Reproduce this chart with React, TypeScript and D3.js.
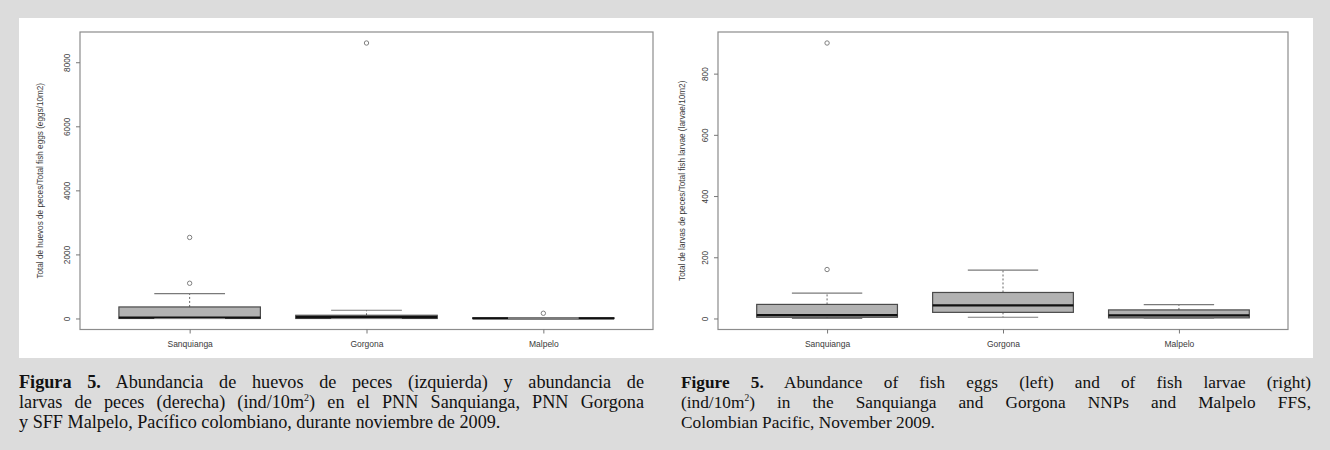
import { useEffect, useRef } from 'react';
import * as d3 from 'd3';

// ─── Data ───────────────────────────────────────────────────

const categories = ['Sanquianga', 'Gorgona', 'Malpelo'];

// eggs / 10 m2 (left panel)
const eggsLowWhisker = [0, 0, 0];
const eggsQ1 = [0, 0, 0];
const eggsMedian = [30, 40, 5];
const eggsQ3 = [360, 100, 20];
const eggsHighWhisker = [775, 257, 30];
const eggsOutliers = [[1100, 2530], [8600], [163]];
const eggsTicks = [0, 2000, 4000, 6000, 8000];

// larvae / 10 m2 (right panel)
const larvaeLowWhisker = [0, 4, 1];
const larvaeQ1 = [4, 20, 2];
const larvaeMedian = [11, 43, 10];
const larvaeQ3 = [46, 85, 28];
const larvaeHighWhisker = [83, 158, 45];
const larvaeOutliers = [[160, 900], [], []];
const larvaeTicks = [0, 200, 400, 600, 800];

const eggsTitle = 'Total de huevos de peces/Total fish eggs (eggs/10m2)';
const larvaeTitle = 'Total de larvas de peces/Total fish larvae (larvae/10m2)';

type Seg = { t: string; b?: boolean; sup?: boolean };
const captionLeft: { segs: Seg[]; justify: boolean }[] = [
  { segs: [{ t: 'Figura 5.', b: true }, { t: ' Abundancia de huevos de peces (izquierda) y abundancia de' }], justify: true },
  { segs: [{ t: 'larvas de peces (derecha) (ind/10m' }, { t: '2', sup: true }, { t: ') en el PNN Sanquianga, PNN Gorgona' }], justify: true },
  { segs: [{ t: 'y SFF Malpelo, Pacífico colombiano, durante noviembre de 2009.' }], justify: false },
];
const captionRight: { segs: Seg[]; justify: boolean }[] = [
  { segs: [{ t: 'Figure 5.', b: true }, { t: ' Abundance of fish eggs (left) and of fish larvae (right)' }], justify: true },
  { segs: [{ t: '(ind/10m' }, { t: '2', sup: true }, { t: ') in the Sanquianga and Gorgona NNPs and Malpelo FFS,' }], justify: true },
  { segs: [{ t: 'Colombian Pacific, November 2009.' }], justify: false },
];

// ─── Layout ─────────────────────────────────────────────────

const W = 1330;
const H = 450;
const SANS = '"Liberation Sans", Arial, sans-serif';
const SERIF = '"Liberation Serif", "Times New Roman", serif';

interface PanelCfg {
  x0: number; x1: number; y0: number; y1: number;
  titleX: number; title: string;
  low: number[]; q1: number[]; med: number[]; q3: number[]; high: number[];
  out: number[][]; ticks: number[];
}

function drawPanel(g: d3.Selection<SVGGElement, unknown, null, undefined>, c: PanelCfg) {
  const x = d3.scaleLinear().domain([0.38, 3.62]).range([c.x0, c.x1]);
  const all = [...c.low, ...c.high, ...c.out.flat()];
  const lo = d3.min(all) as number;
  const hi = d3.max(all) as number;
  const pad = (hi - lo) * 0.04;
  const y = d3.scaleLinear().domain([lo - pad, hi + pad]).range([c.y1, c.y0]);

  // frame
  g.append('rect')
    .attr('x', c.x0).attr('y', c.y0)
    .attr('width', c.x1 - c.x0).attr('height', c.y1 - c.y0)
    .attr('fill', 'none').attr('stroke', '#8c8c8c').attr('stroke-width', 1.2);

  // y axis
  const ya = g.append('g').attr('transform', `translate(${c.x0},0)`)
    .call(d3.axisLeft(y).tickValues(c.ticks).tickSize(4).tickFormat(d3.format('d')));
  ya.select('.domain').remove();
  ya.selectAll('line').attr('stroke', '#777');
  ya.selectAll('text')
    .attr('x', 0).attr('y', -10).attr('dy', 0)
    .attr('transform', 'rotate(-90)')
    .attr('text-anchor', 'middle')
    .attr('fill', '#3a3a3a').attr('font-size', 8.3).attr('font-family', SANS);

  // x axis
  const xa = g.append('g').attr('transform', `translate(0,${c.y1})`)
    .call(d3.axisBottom(x).tickValues([1, 2, 3]).tickSize(4)
      .tickFormat((d) => categories[Number(d) - 1]));
  xa.select('.domain').remove();
  xa.selectAll('line').attr('stroke', '#777');
  xa.selectAll('text')
    .attr('y', 17).attr('dy', 0)
    .attr('fill', '#3a3a3a').attr('font-size', 8.5).attr('font-family', SANS);

  // y title
  const midY = (c.y0 + c.y1) / 2;
  g.append('text')
    .attr('transform', `translate(${c.titleX},${midY}) rotate(-90)`)
    .attr('text-anchor', 'middle')
    .attr('fill', '#3a3a3a').attr('font-size', 8.2).attr('font-family', SANS)
    .text(c.title);

  // boxes
  const halfBox = x(1.4) - x(1);
  const halfCap = x(1.2) - x(1);
  categories.forEach((_, i) => {
    const cx = x(i + 1);
    const bg = g.append('g');
    // whiskers (dashed)
    bg.append('line').attr('x1', cx).attr('x2', cx)
      .attr('y1', y(c.q3[i])).attr('y2', y(c.high[i]))
      .attr('stroke', '#666').attr('stroke-dasharray', '2,2');
    bg.append('line').attr('x1', cx).attr('x2', cx)
      .attr('y1', y(c.q1[i])).attr('y2', y(c.low[i]))
      .attr('stroke', '#666').attr('stroke-dasharray', '2,2');
    // box
    bg.append('rect')
      .attr('x', cx - halfBox).attr('width', halfBox * 2)
      .attr('y', y(c.q3[i])).attr('height', Math.max(0.5, y(c.q1[i]) - y(c.q3[i])))
      .attr('fill', '#b2b2b2').attr('stroke', '#4a4a4a').attr('stroke-width', 1.2);
    // median
    bg.append('line')
      .attr('x1', cx - halfBox).attr('x2', cx + halfBox)
      .attr('y1', y(c.med[i])).attr('y2', y(c.med[i]))
      .attr('stroke', '#111').attr('stroke-width', 2.2);
    // caps
    [c.high[i], c.low[i]].forEach((v) => {
      bg.append('line')
        .attr('x1', cx - halfCap).attr('x2', cx + halfCap)
        .attr('y1', y(v)).attr('y2', y(v))
        .attr('stroke', '#7a7a7a').attr('stroke-width', 1.2);
    });
    // outliers
    bg.selectAll('circle').data(c.out[i]).join('circle')
      .attr('cx', cx).attr('cy', (d) => y(d)).attr('r', 2.2)
      .attr('fill', 'none').attr('stroke', '#808080').attr('stroke-width', 1);
  });
}

function drawCaption(
  g: d3.Selection<SVGGElement, unknown, null, undefined>,
  lines: { segs: Seg[]; justify: boolean }[],
  x0: number, width: number, baseY: number, size: number,
) {
  lines.forEach((ln, i) => {
    const t = g.append('text')
      .attr('x', x0).attr('y', baseY + i * 20)
      .attr('font-family', SERIF).attr('font-size', size).attr('fill', '#111');
    ln.segs.forEach((s) => {
      const ts = t.append('tspan').text(s.t);
      if (s.b) ts.attr('font-weight', 'bold');
      if (s.sup) ts.attr('font-size', size * 0.55).attr('baseline-shift', size * 0.38);
    });
    if (ln.justify) {
      const natural = (t.node() as SVGTextElement).getComputedTextLength();
      const spaces = ln.segs.map((s) => s.t).join('').split(' ').length - 1;
      if (spaces > 0) t.attr('word-spacing', Math.max(0, (width - natural) / spaces));
    }
  });
}

export default function App() {
  const svgRef = useRef<SVGSVGElement>(null);

  useEffect(() => {
    if (!svgRef.current) return;
    const svg = d3.select(svgRef.current);
    svg.selectAll('*').remove();

    svg.append('rect').attr('width', W).attr('height', H).attr('fill', '#dcdcdc');
    svg.append('rect').attr('x', 19).attr('y', 18).attr('width', 1294).attr('height', 340).attr('fill', '#fff');

    drawPanel(svg.append('g'), {
      x0: 80, x1: 653, y0: 32, y1: 329.5, titleX: 43, title: eggsTitle,
      low: eggsLowWhisker, q1: eggsQ1, med: eggsMedian, q3: eggsQ3, high: eggsHighWhisker,
      out: eggsOutliers, ticks: eggsTicks,
    });
    drawPanel(svg.append('g'), {
      x0: 718, x1: 1288, y0: 32, y1: 329.5, titleX: 685, title: larvaeTitle,
      low: larvaeLowWhisker, q1: larvaeQ1, med: larvaeMedian, q3: larvaeQ3, high: larvaeHighWhisker,
      out: larvaeOutliers, ticks: larvaeTicks,
    });

    drawCaption(svg.append('g'), captionLeft, 19, 625, 388, 18.2);
    drawCaption(svg.append('g'), captionRight, 681, 630, 388, 17.3);
  }, []);

  return (
    <div style={{ position: 'absolute', left: 0, top: 0 }}>
      <svg ref={svgRef} width={W} height={H} style={{ display: 'block' }} />
    </div>
  );
}
